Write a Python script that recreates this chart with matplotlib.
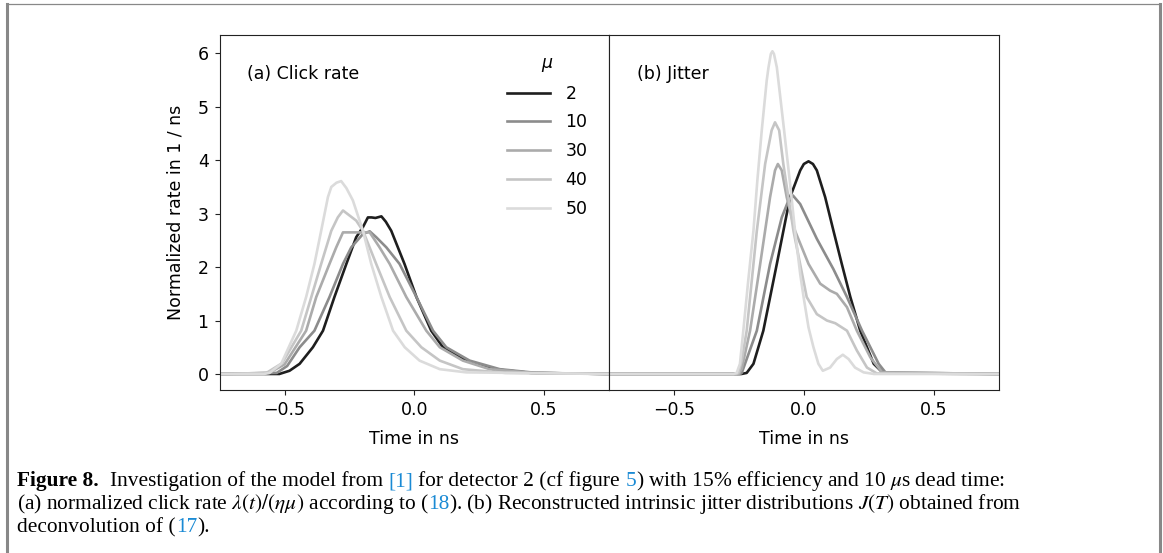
import matplotlib
matplotlib.use("Agg")
import matplotlib.pyplot as plt
from matplotlib.lines import Line2D
from matplotlib.transforms import IdentityTransform

# ---- data --------------------------------------------------------------
mu_values = [2, 10, 30, 40, 50]
colors = ['#1e1e1e', '#8c8c8c', '#ababab', '#c5c5c5', '#dbdbdb']

# (a) click rate
t_a_2 = [-0.75, -0.52, -0.481, -0.442, -0.391, -0.352, -0.308, -0.262, -0.224,
         -0.198, -0.179, -0.165, -0.150, -0.127, -0.110, -0.089, -0.038, 0.008,
         0.065, 0.110, 0.200, 0.303, 0.45, 0.75]
rate_a_2 = [0, 0.0, 0.06, 0.19, 0.50, 0.81, 1.44, 2.06, 2.56,
            2.75, 2.93, 2.93, 2.92, 2.95, 2.85, 2.68, 2.06, 1.44,
            0.81, 0.50, 0.25, 0.09, 0.02, 0.0]

t_a_10 = [-0.75, -0.53, -0.49, -0.442, -0.385, -0.327, -0.275, -0.243, -0.198,
          -0.172, -0.147, -0.108, -0.057, 0.008, 0.072, 0.123, 0.213, 0.329,
          0.47, 0.75]
rate_a_10 = [0, 0.02, 0.15, 0.50, 0.81, 1.44, 2.06, 2.37, 2.62,
             2.67, 2.56, 2.37, 2.06, 1.44, 0.81, 0.50, 0.25, 0.09,
             0.02, 0.0]

t_a_30 = [-0.75, -0.56, -0.50, -0.417, -0.378, -0.327, -0.301, -0.275, -0.172,
          -0.134, -0.095, -0.031, 0.046, 0.098, 0.187, 0.290, 0.45, 0.75]
rate_a_30 = [0, 0.02, 0.18, 0.81, 1.44, 2.06, 2.37, 2.65, 2.65,
             2.37, 2.06, 1.44, 0.81, 0.50, 0.25, 0.09, 0.02, 0.0]

t_a_40 = [-0.75, -0.57, -0.51, -0.436, -0.397, -0.359, -0.320, -0.295, -0.275,
          -0.224, -0.198, -0.147, -0.095, -0.031, 0.027, 0.098, 0.187, 0.35,
          0.75]
rate_a_40 = [0, 0.02, 0.20, 0.81, 1.44, 2.06, 2.68, 2.93, 3.06,
             2.87, 2.68, 2.06, 1.44, 0.81, 0.50, 0.25, 0.09, 0.02,
             0.0]

t_a_50 = [-0.75, -0.58, -0.558, -0.513, -0.455, -0.417, -0.385, -0.359, -0.333,
          -0.320, -0.300, -0.282, -0.262, -0.237, -0.198, -0.166, -0.127, -0.082,
          -0.037, 0.020, 0.098, 0.200, 0.75]
rate_a_50 = [0, 0.0, 0.02, 0.19, 0.81, 1.44, 2.06, 2.68, 3.31,
             3.50, 3.58, 3.61, 3.48, 3.25, 2.68, 2.06, 1.44, 0.81,
             0.50, 0.25, 0.09, 0.03, 0.0]

# (b) jitter
t_b_2 = [-0.75, -0.24, -0.220, -0.194, -0.156, -0.104, -0.053, -0.014, 0.000,
         0.018, 0.035, 0.050, 0.082, 0.114, 0.146, 0.179, 0.217, 0.269, 0.307,
         0.75]
rate_b_2 = [0, 0.0, 0.02, 0.19, 0.81, 2.06, 3.31, 3.81, 3.93,
            3.98, 3.93, 3.81, 3.31, 2.68, 2.06, 1.44, 0.81, 0.19, 0.01,
            0.0]

t_b_10 = [-0.75, -0.245, -0.239, -0.181, -0.130, -0.085, -0.059, -0.042, -0.014,
          0.050, 0.114, 0.166, 0.224, 0.288, 0.314, 0.75]
rate_b_10 = [0, 0.0, 0.02, 0.81, 2.06, 2.93, 3.25, 3.34, 3.18,
             2.53, 1.96, 1.44, 0.81, 0.19, 0.03, 0.0]

t_b_30 = [-0.75, -0.25, -0.239, -0.207, -0.168, -0.130, -0.111, -0.100, -0.085,
          -0.066, -0.034, 0.018, 0.063, 0.101, 0.127, 0.166, 0.204, 0.256,
          0.301, 0.75]
rate_b_30 = [0, 0.0, 0.10, 0.81, 2.06, 3.31, 3.81, 3.93, 3.81,
             3.31, 2.68, 2.06, 1.69, 1.56, 1.50, 1.25, 0.81, 0.31,
             0.03, 0.0]

t_b_40 = [-0.75, -0.26, -0.252, -0.239, -0.220, -0.181, -0.149, -0.124, -0.111,
          -0.095, -0.079, -0.040, 0.011, 0.050, 0.089, 0.121, 0.166, 0.204,
          0.243, 0.281, 0.75]
rate_b_40 = [0, 0.0, 0.02, 0.25, 0.81, 2.68, 3.93, 4.56, 4.71,
             4.56, 3.93, 2.68, 1.44, 1.12, 1.00, 0.95, 0.81, 0.44,
             0.12, 0.01, 0.0]

t_b_50 = [-0.75, -0.27, -0.2585, -0.246, -0.233, -0.214, -0.194, -0.179, -0.162,
          -0.143, -0.136, -0.127, -0.121, -0.115, -0.104, -0.098, -0.076, -0.053,
          -0.034, -0.014, -0.001, 0.018, 0.037, 0.056, 0.073, 0.101, 0.127,
          0.150, 0.172, 0.197, 0.230, 0.27, 0.75]
rate_b_50 = [0, 0.0, 0.02, 0.19, 0.81, 1.75, 2.68, 3.62, 4.56,
             5.49, 5.74, 5.99, 6.04, 5.99, 5.74, 5.49, 4.56, 3.56,
             2.68, 1.87, 1.44, 0.87, 0.50, 0.19, 0.06, 0.12, 0.28,
             0.36, 0.28, 0.12, 0.03, 0.0, 0.0]

curves_a = [(t_a_2, rate_a_2), (t_a_10, rate_a_10), (t_a_30, rate_a_30),
            (t_a_40, rate_a_40), (t_a_50, rate_a_50)]
curves_b = [(t_b_2, rate_b_2), (t_b_10, rate_b_10), (t_b_30, rate_b_30),
            (t_b_40, rate_b_40), (t_b_50, rate_b_50)]

W, H = 1163, 553
fig = plt.figure(figsize=(W / 100, H / 100), dpi=100)
plt.rcParams['font.family'] = ['DejaVu Sans']
fs = 12.5

ax_a = fig.add_axes([219.7 / W, 1 - 390 / H, 389.3 / W, 355.3 / H])
ax_b = fig.add_axes([609 / W, 1 - 390 / H, 389.7 / W, 355.3 / H], sharey=ax_a)

for (t, r), c, mu in zip(curves_a, colors, mu_values):
    ax_a.plot(t, r, color=c, lw=1.9, label=str(mu))
for (t, r), c in zip(curves_b, colors):
    ax_b.plot(t, r, color=c, lw=1.9)

for ax in (ax_a, ax_b):
    ax.set_xlim(-0.75, 0.75)
    ax.set_xticks([-0.5, 0.0, 0.5])
    ax.tick_params(labelsize=fs, color='#222222', pad=4.5)
    ax.set_xlabel('Time in ns', fontsize=fs, labelpad=8)
    for s in ax.spines.values():
        s.set_color('#222222')
ax_a.set_ylim(-0.3, 6.35)
ax_a.set_yticks([0, 1, 2, 3, 4, 5, 6])
ax_b.tick_params(axis='y', left=False, labelleft=False)
ax_a.set_ylabel('Normalized rate in 1 / ns', fontsize=fs, labelpad=9)

ax_a.text(0.07, 0.89, '(a) Click rate', transform=ax_a.transAxes,
          fontsize=fs, va='center', ha='left')
ax_b.text(0.072, 0.89, '(b) Jitter', transform=ax_b.transAxes,
          fontsize=fs, va='center', ha='left')

leg = ax_a.legend(title=r'$\mu$', frameon=False, fontsize=fs,
                  title_fontsize=fs, loc='upper right',
                  bbox_to_anchor=(0.985, 0.99), handlelength=2.5,
                  handletextpad=0.9, labelspacing=0.62)

# outer frame of the page box
fig.add_artist(Line2D([7 / W, 7 / W], [0, 1 - 4 / H], color='#888888', lw=2.2))
fig.add_artist(Line2D([1160 / W, 1160 / W], [0, 1 - 4 / H], color='#888888', lw=2.2))
fig.add_artist(Line2D([7 / W, 1160 / W], [1 - 4 / H, 1 - 4 / H], color='#888888', lw=0.9))

# caption, drawn piece by piece so citations can be blue
blue = '#1a8ad4'
cap_fs = 15.4
cap_lines = [
    [('Figure 8.', 'black', 'bold'),
     ('  Investigation of the model from ', 'black', 'normal'),
     ('[1]', blue, 'normal'),
     (' for detector 2 (cf figure ', 'black', 'normal'),
     ('5', blue, 'normal'),
     (r') with 15% efficiency and 10 $\mu$s dead time:', 'black', 'normal')],
    [(r'(a) normalized click rate $\lambda(t)/(\eta\mu)$ according to (', 'black', 'normal'),
     ('18', blue, 'normal'),
     (r'). (b) Reconstructed intrinsic jitter distributions $J(T)$ obtained from', 'black', 'normal')],
    [('deconvolution of (', 'black', 'normal'),
     ('17', blue, 'normal'),
     (').', 'black', 'normal')],
]
cap_baseline = [486, 509, 532]

renderer = fig.canvas.get_renderer()


def advance(s, weight):
    # width of s measured between two bars, so spaces and side bearings count
    t1 = fig.text(0, 0, '|' + s + '|', fontsize=cap_fs, family='Liberation Serif',
                  weight=weight, math_fontfamily='stix')
    t2 = fig.text(0, 0, '||', fontsize=cap_fs, family='Liberation Serif',
                  weight=weight, math_fontfamily='stix')
    w = t1.get_window_extent(renderer).width - t2.get_window_extent(renderer).width
    t1.remove()
    t2.remove()
    return w


for pieces, yb in zip(cap_lines, cap_baseline):
    x0 = 17
    bold_w = 0
    prefix = ''
    for s, c, wgt in pieces:
        lead = s[:len(s) - len(s.lstrip(' '))]
        if wgt == 'bold':
            x = x0
        else:
            x = x0 + bold_w + advance(prefix + lead, 'normal')
        fig.text(x, H - yb, s.lstrip(' '), fontsize=cap_fs, family='Liberation Serif',
                 weight=wgt, color=c, va='baseline', ha='left',
                 math_fontfamily='stix', transform=IdentityTransform())
        if wgt == 'bold':
            bold_w += advance(s, 'bold')
        else:
            prefix += s

fig.savefig('out.png', dpi=100)
